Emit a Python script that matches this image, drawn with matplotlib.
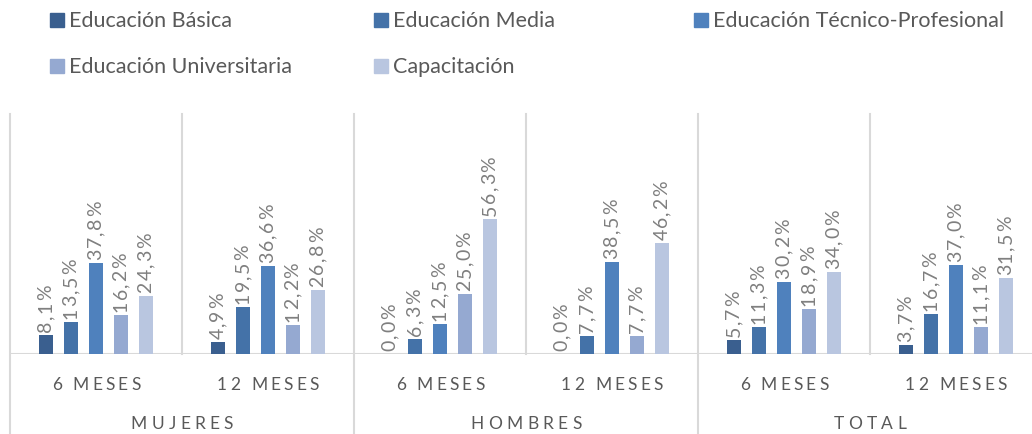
import matplotlib
matplotlib.use("Agg")
import matplotlib.pyplot as plt
from matplotlib.patches import Rectangle
from matplotlib.transforms import blended_transform_factory
import numpy as np

plt.rcParams['font.family'] = ['Lato', 'DejaVu Sans']

series = ["Educación Básica", "Educación Media", "Educación Técnico-Profesional",
          "Educación Universitaria", "Capacitación"]
colors = ["#3A5F8F", "#4472A8", "#4F81BD", "#95A9D1", "#B9C6E0"]
periods = ["6 MESES", "12 MESES", "6 MESES", "12 MESES", "6 MESES", "12 MESES"]
groups = ["MUJERES", "HOMBRES", "TOTAL"]

basica = [8.1, 4.9, 0.0, 0.0, 5.7, 3.7]
media = [13.5, 19.5, 6.3, 7.7, 11.3, 16.7]
tecnico = [37.8, 36.6, 12.5, 38.5, 30.2, 37.0]
universitaria = [16.2, 12.2, 25.0, 7.7, 18.9, 11.1]
capacitacion = [24.3, 26.8, 56.3, 46.2, 34.0, 31.5]

values = [basica, media, tecnico, universitaria, capacitacion]

W, H = 1032, 435
fig = plt.figure(figsize=(W / 100, H / 100), dpi=100)
ax = fig.add_axes([10 / W, (H - 355) / H, 1032 / W, 240 / H])
ax.set_xlim(-0.5, 5.5)
ax.set_ylim(0, 100)
for s in ax.spines.values():
    s.set_visible(False)
ax.set_xticks([])
ax.set_yticks([])

grid_c = "#D9D9D9"
bw = 14 / 172
step = 25 / 172
x = np.arange(len(periods))
bar_tops = []
for i, (vals, c) in enumerate(zip(values, colors)):
    xs = x + (i - 2) * step
    ax.bar(xs, vals, width=bw, color=c, zorder=3)
    for xx, v in zip(xs, vals):
        bar_tops.append((xx, v))

# gridlines
bt = blended_transform_factory(ax.transData, ax.transAxes)
for k in range(len(periods) + 1):
    xv = k - 0.5
    y0 = -0.36 if k % 2 == 0 else 0
    ax.plot([xv, xv], [y0, 1.0], transform=bt, color=grid_c, lw=1.5,
            clip_on=False, zorder=1)
ax.axhline(0, color=grid_c, lw=1.5, zorder=2)

fig.canvas.draw()
renderer = fig.canvas.get_renderer()
_wcache = {}


def text_width(s, fs):
    key = (s, fs)
    if key not in _wcache:
        t = fig.text(0, 0, s, fontsize=fs)
        _wcache[key] = t.get_window_extent(renderer).width
        t.remove()
    return _wcache[key]


def char_widths(s, fs):
    space_w = text_width("M M", fs) - text_width("MM", fs)
    return [space_w if ch == " " else text_width(ch, fs) for ch in s]


def spaced(cx, cy, s, fs, spacing, color):
    widths = char_widths(s, fs)
    total = sum(widths) + spacing * (len(s) - 1)
    px = cx - total / 2
    for ch, w in zip(s, widths):
        if ch != " ":
            fig.text(px / W, cy / H, ch, fontsize=fs, color=color,
                     ha="left", va="center")
        px += w + spacing


def spaced_vertical(cx, y0, s, fs, spacing, color):
    widths = char_widths(s, fs)
    py = y0
    for ch, w in zip(s, widths):
        fig.text(cx / W, py / H, ch, fontsize=fs, color=color, rotation=90,
                 ha="center", va="bottom")
        py += w + spacing


# data labels
for xx, v in bar_tops:
    px, py = ax.transData.transform((xx, v))
    spaced_vertical(px, py + 4, f"{v:.1f}%".replace(".", ","), 14, 1.5, "#7F7F7F")

tick_c = "#595959"
for k, p in enumerate(periods):
    cx = ax.transData.transform((k, 0))[0]
    spaced(cx, H - 385, p, 12.5, 3.2, tick_c)
for g, name in enumerate(groups):
    cx = ax.transData.transform((2 * g + 0.5, 0))[0]
    spaced(cx, H - 424, name, 12.5, 4.3, tick_c)

# legend
leg_pos = [(50, 21), (374, 21), (694, 21), (50, 67), (374, 67)]
for (lx, ly), name, c in zip(leg_pos, series, colors):
    fig.add_artist(Rectangle((lx / W, (H - ly - 7) / H), 14 / W, 14 / H,
                             transform=fig.transFigure, color=c))
    fig.text((lx + 19) / W, (H - ly) / H, name, fontsize=15.5, color=tick_c,
             ha="left", va="center")

fig.savefig("out.png", dpi=100)
